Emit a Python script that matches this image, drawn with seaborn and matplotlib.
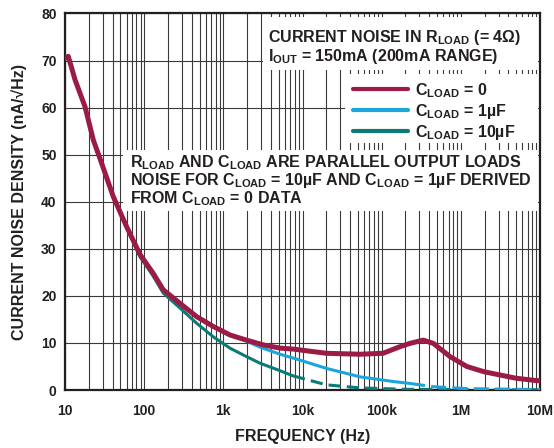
import numpy as np
import pandas as pd
import matplotlib
matplotlib.use("Agg")
import matplotlib.pyplot as plt
import seaborn as sns
from matplotlib.patches import Rectangle
from matplotlib.lines import Line2D

# ---------------- data ----------------
freq_c0 = [10, 11, 13.4, 17.9, 22.8, 29, 40.7, 60, 88.6, 130, 174, 284, 459, 746,
           1210, 1960, 3170, 5200, 7600, 20000, 53000, 104000, 170000, 227000,
           335000, 450000, 730000, 1.19e6, 1.94e6, 3.1e6, 5.0e6, 9.0e6, 1e7]
noise_c0 = [70.5, 70.9, 65.9, 60.2, 53.1, 48.2, 41.1, 34.7, 28.8, 24.8, 21.3, 18.4,
            15.6, 13.5, 11.7, 10.6, 9.6, 8.9, 8.7, 7.8, 7.6, 7.8, 9.2, 9.9, 10.6,
            9.9, 7.1, 5.0, 3.9, 3.2, 2.5, 2.0, 2.0]

freq_c1u = [10, 11, 13.4, 17.9, 22.8, 29, 40.7, 60, 88.6, 130, 174, 284, 459, 746,
            1210, 1960, 2900, 5200, 7600, 20000, 53000, 140000, 227000, 450000,
            1.2e6, 1e7]
noise_c1u = [70.5, 70.9, 65.9, 60.2, 53.1, 48.2, 41.1, 34.7, 28.8, 24.8, 21.3, 18.4,
             15.6, 13.5, 11.6, 10.4, 9.1, 7.6, 6.8, 4.6, 2.8, 1.8, 1.4, 0.7, 0.3, 0.08]

freq_c10u = [10, 11, 13.4, 17.9, 22.8, 29, 40.7, 60, 88.6, 130, 174, 284, 459, 746,
             1210, 1960, 2900, 5200, 7600, 20000, 53000, 200000, 1e6, 1e7]
noise_c10u = [70.5, 70.9, 65.9, 60.2, 53.1, 48.2, 41.1, 34.6, 28.3, 24.2, 20.6, 17.4,
              14.2, 11.3, 8.9, 7.1, 5.7, 4.1, 3.0, 1.1, 0.45, 0.15, 0.07, 0.04]

series_labels = [r"C$_{\mathrm{LOAD}}$ = 0", r"C$_{\mathrm{LOAD}}$ = 1µF",
                 r"C$_{\mathrm{LOAD}}$ = 10µF"]
x_ticks = [10, 100, 1e3, 1e4, 1e5, 1e6, 1e7]
x_tick_labels = ["10", "100", "1k", "10k", "100k", "1M", "10M"]
y_ticks = [0, 10, 20, 30, 40, 50, 60, 70, 80]

# ---------------- style ----------------
sns.set_theme(style="white")
plt.rcParams["font.family"] = ["Liberation Sans", "DejaVu Sans"]
plt.rcParams["font.weight"] = "bold"
plt.rcParams["mathtext.fontset"] = "custom"
plt.rcParams["mathtext.rm"] = "Liberation Sans:bold"
plt.rcParams["mathtext.bf"] = "Liberation Sans:bold"
plt.rcParams["mathtext.it"] = "Liberation Sans:bold"
plt.rcParams["mathtext.default"] = "rm"

MAROON = "#9C1B45"
BLUE = "#1BA5DD"
TEAL = "#0C7A76"
INK = "#231F20"
FS = 11.5

fig = plt.figure(figsize=(5.54, 4.48), dpi=100)
ax = fig.add_axes([65 / 554, 1 - 390 / 448, 475 / 554, 376.5 / 448])

df0 = pd.DataFrame({"f": freq_c0, "n": noise_c0})
df1 = pd.DataFrame({"f": freq_c1u, "n": noise_c1u})
df10 = pd.DataFrame({"f": freq_c10u, "n": noise_c10u})

# derived curves: solid where data is dense, dashed tail
sns.lineplot(data=df10[df10.f <= 7600], x="f", y="n", ax=ax, color=TEAL, lw=2.2,
             zorder=4)
sns.lineplot(data=df10[df10.f >= 7600], x="f", y="n", ax=ax, color=TEAL, lw=2.2,
             ls=(0, (4, 2)), zorder=4)
sns.lineplot(data=df1[df1.f <= 227000], x="f", y="n", ax=ax, color=BLUE, lw=2.2,
             zorder=5)
sns.lineplot(data=df1[df1.f >= 227000], x="f", y="n", ax=ax, color=BLUE, lw=2.2,
             ls=(0, (5, 2)), zorder=5)
sns.lineplot(data=df0, x="f", y="n", ax=ax, color=MAROON, lw=3.6, zorder=6)

ax.set_xscale("log")
ax.set_xlim(10, 1e7)
ax.set_ylim(0, 80)
ax.set_xticks(x_ticks)
ax.set_xticklabels(x_tick_labels)
ax.set_yticks(y_ticks)
ax.xaxis.set_minor_locator(matplotlib.ticker.LogLocator(base=10, subs=np.arange(2, 10)))
ax.xaxis.set_minor_formatter(matplotlib.ticker.NullFormatter())
ax.tick_params(axis="both", which="both", length=0)
ax.tick_params(axis="x", pad=10, labelsize=10)
ax.tick_params(axis="y", pad=6, labelsize=10)
for lab in ax.get_xticklabels() + ax.get_yticklabels():
    lab.set_fontweight("bold")
    lab.set_color(INK)

ax.grid(True, which="both", axis="x", color="#3a3a3a", lw=0.8, zorder=0)
ax.grid(True, which="major", axis="y", color="#3a3a3a", lw=0.8, zorder=0)
ax.set_axisbelow(True)
for s in ax.spines.values():
    s.set_visible(True)
    s.set_color(INK)
    s.set_linewidth(1.6)

ax.set_xlabel("FREQUENCY (Hz)", fontsize=FS, fontweight="bold", color=INK,
              labelpad=8)
ax.set_ylabel("CURRENT NOISE DENSITY (nA/√Hz)", fontsize=FS, fontweight="bold",
              color=INK, labelpad=10)


def ax_y(py):
    return (390 - py) / 376.5


def ax_x(px):
    return (px - 65) / 475


# white boxes behind annotation text
for x0, x1, y0, y1 in [(263, 538, 70, 17), (345, 538, 143, 74), (123, 538, 211, 150)]:
    ax.add_patch(Rectangle((ax_x(x0), ax_y(y0)), ax_x(x1) - ax_x(x0),
                           ax_y(y1) - ax_y(y0), transform=ax.transAxes,
                           facecolor="white", edgecolor="none", zorder=2))

txt_kw = dict(transform=ax.transAxes, fontsize=FS, fontweight="bold",
              color=INK, zorder=7, va="baseline", ha="left")
ax.text(ax_x(268), ax_y(42), r"CURRENT NOISE IN R$_{\mathrm{LOAD}}$ (= 4Ω)", **txt_kw)
ax.text(ax_x(268), ax_y(61), r"I$_{\mathrm{OUT}}$ = 150mA (200mA RANGE)", **txt_kw)
ax.text(ax_x(130), ax_y(167),
        r"R$_{\mathrm{LOAD}}$ AND C$_{\mathrm{LOAD}}$ ARE PARALLEL OUTPUT LOADS", **txt_kw)
ax.text(ax_x(130), ax_y(185),
        r"NOISE FOR C$_{\mathrm{LOAD}}$ = 10µF AND C$_{\mathrm{LOAD}}$ = 1µF DERIVED", **txt_kw)
ax.text(ax_x(130), ax_y(203), r"FROM C$_{\mathrm{LOAD}}$ = 0 DATA", **txt_kw)

# legend
handles = [Line2D([], [], color=MAROON, lw=3.0),
           Line2D([], [], color=BLUE, lw=3.0),
           Line2D([], [], color=TEAL, lw=3.0)]
leg = ax.legend(handles, series_labels, loc="upper left",
                bbox_to_anchor=(ax_x(353), ax_y(81)), frameon=False,
                prop={"size": FS, "weight": "bold"}, handlelength=3.45,
                handletextpad=0.44, labelspacing=0.12, borderaxespad=0,
                borderpad=0)
for t in leg.get_texts():
    t.set_color(INK)
leg.set_zorder(8)

fig.savefig("out.png", dpi=100)
